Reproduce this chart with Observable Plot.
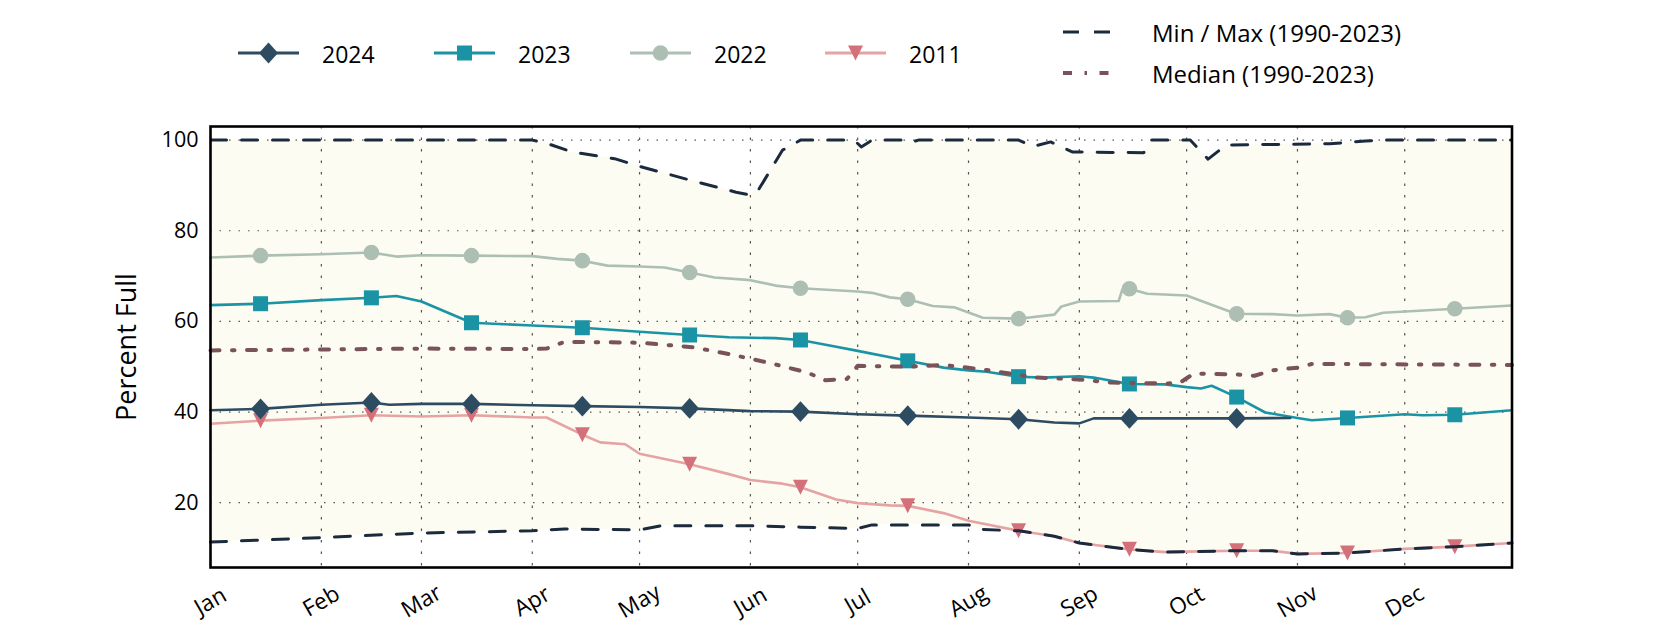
<!DOCTYPE html>
<html><head><meta charset="utf-8">
<script src="https://cdn.jsdelivr.net/npm/d3@7"></script>
<script src="https://cdn.jsdelivr.net/npm/@observablehq/plot@0.6"></script>
<style>
html,body{margin:0;padding:0;background:#fff;}
#chart{width:1680px;height:630px;font-family:"Open Sans",sans-serif;}
</style></head><body><div id="chart"></div>
<script>
const YEAR = 2023;
const monthTicks = ["01-01","02-01","03-01","04-01","05-01","06-01","07-01","08-01","09-01","10-01","11-01","12-01"];
const yTicks = [20, 40, 60, 80, 100];
const xDomain = ["01-01", "12-31"];
const yDomain = [5.7, 103];

const s2024 = [["01-01",40.4],["01-15",40.7],["02-01",41.6],["02-15",42.1],["02-20",41.6],["03-01",41.8],["03-15",41.8],["04-01",41.5],["04-15",41.3],["05-01",41.1],["05-15",40.8],["06-01",40.2],["06-15",40.1],["07-01",39.5],["07-15",39.2],["08-01",38.8],["08-15",38.4],["08-25",37.7],["09-01",37.5],["09-05",38.6],["09-15",38.6],["10-01",38.6],["10-15",38.6],["10-30",38.7]];
const s2023 = [["01-01",63.6],["01-15",63.9],["02-01",64.7],["02-15",65.2],["02-22",65.6],["03-01",64.4],["03-15",59.7],["04-01",59.1],["04-15",58.6],["05-01",57.7],["05-15",57.0],["05-26",56.5],["06-08",56.3],["06-15",55.9],["06-25",54.4],["07-01",53.5],["07-15",51.3],["07-25",49.8],["08-01",49.2],["08-06",48.9],["08-15",47.8],["08-22",47.6],["09-01",47.9],["09-05",47.6],["09-15",46.2],["09-25",46.1],["10-01",45.5],["10-05",45.2],["10-08",45.8],["10-15",43.3],["10-23",39.9],["11-01",38.7],["11-05",38.2],["11-15",38.7],["12-01",39.5],["12-06",39.3],["12-15",39.4],["12-31",40.4]];
const s2022 = [["01-01",74.1],["01-15",74.5],["02-01",74.8],["02-15",75.2],["02-22",74.3],["03-01",74.6],["03-15",74.5],["04-01",74.4],["04-08",73.8],["04-15",73.4],["04-22",72.3],["05-01",72.1],["05-08",71.9],["05-15",70.8],["05-22",69.7],["06-01",69.1],["06-08",67.9],["06-15",67.3],["07-01",66.6],["07-05",66.3],["07-10",65.3],["07-15",64.9],["07-22",63.4],["07-28",63.1],["08-05",60.8],["08-15",60.6],["08-25",61.5],["08-27",63.3],["09-01",64.4],["09-12",64.5],["09-13",67.0],["09-15",67.2],["09-20",66.1],["10-01",65.7],["10-14",61.9],["10-15",61.7],["10-25",61.6],["11-01",61.3],["11-10",61.6],["11-15",60.8],["11-20",60.9],["11-25",61.9],["12-15",62.8],["12-31",63.5]];
const s2011 = [["01-01",37.4],["01-15",38.1],["02-01",38.7],["02-15",39.3],["03-01",39.0],["03-15",39.3],["04-01",38.8],["04-05",38.8],["04-15",35.0],["04-20",33.3],["04-27",32.9],["05-01",30.8],["05-10",29.3],["05-15",28.5],["05-26",26.3],["06-01",25.0],["06-10",24.2],["06-15",23.4],["06-25",20.7],["07-01",19.9],["07-10",19.4],["07-15",19.3],["07-25",17.7],["08-01",16.0],["08-15",13.8],["08-25",12.6],["09-01",11.1],["09-15",9.7],["09-25",9.1],["10-01",9.2],["10-15",9.4],["10-25",9.4],["11-01",8.7],["11-15",8.9],["12-01",9.8],["12-15",10.3],["12-31",11.1]];
const sMin = [["01-01",11.3],["02-01",12.3],["03-01",13.3],["04-01",13.8],["04-10",14.2],["05-01",14.0],["05-07",14.9],["06-01",14.9],["06-15",14.6],["07-01",14.3],["07-05",15.1],["08-01",15.1],["08-04",14.1],["08-15",13.8],["08-25",12.6],["09-01",11.1],["09-15",9.7],["09-25",9.1],["10-01",9.2],["10-15",9.4],["10-25",9.4],["11-01",8.7],["11-15",8.9],["12-01",9.8],["12-15",10.3],["12-31",11.1]];
const sMax = [["01-01",100],["04-01",100],["04-05",99.3],["04-12",97.4],["04-24",95.9],["05-01",94.2],["05-15",91.2],["05-28",88.5],["06-01",87.9],["06-03",88.7],["06-10",97.8],["06-15",100],["06-30",100],["07-02",98.5],["07-05",100],["07-14",100],["07-16",99.5],["07-18",100],["08-15",100],["08-19",98.6],["08-24",99.6],["08-30",97.4],["09-19",97.2],["09-21",100],["10-02",100],["10-07",95.8],["10-12",98.9],["11-10",99.2],["11-20",99.8],["11-25",100],["12-31",100]];
const sMedian = [["01-01",53.6],["02-01",53.8],["03-01",54.0],["04-01",53.9],["04-05",54.0],["04-10",55.5],["05-01",55.3],["05-16",54.3],["05-26",52.8],["06-06",50.9],["06-17",48.7],["06-22",47.0],["06-28",47.3],["07-01",50.2],["07-15",50.0],["07-25",50.4],["08-05",49.4],["08-15",48.2],["08-20",47.6],["09-01",47.2],["09-10",46.5],["09-25",46.3],["09-29",46.4],["10-03",48.5],["10-15",48.3],["10-20",48.0],["10-25",49.2],["11-01",49.8],["11-05",50.6],["11-10",50.6],["12-31",50.4]];

const parse = s => new Date(YEAR, +s.slice(0, 2) - 1, +s.slice(3, 5));
const rows = arr => arr.map(([d, v]) => ({date: parse(d), value: v}));
const mid = arr => rows(arr).filter(d => d.date.getDate() === 15);

const diamondSym = {draw(ctx, size) { const r = Math.sqrt(size / Math.PI); const w = r, h = r * 1.1; ctx.moveTo(0, -h); ctx.lineTo(w, 0); ctx.lineTo(0, h); ctx.lineTo(-w, 0); ctx.closePath(); }};
const squareSym = {draw(ctx, size) { const r = Math.sqrt(size / Math.PI); ctx.rect(-r, -r, 2 * r, 2 * r); }};
const triDownSym = {draw(ctx, size) { const r = Math.sqrt(size / Math.PI); ctx.moveTo(-r, -r); ctx.lineTo(r, -r); ctx.lineTo(0, r); ctx.closePath(); }};
const circleSym = {draw(ctx, size) { const r = Math.sqrt(size / Math.PI); ctx.moveTo(r, 0); ctx.arc(0, 0, r, 0, 2 * Math.PI); }};

const C = {c2024: "#2d4b61", c2023: "#1a94a5", c2022: "#adbfb3", c2011: "#d3707a", c2011line: "#e5a3a3", minmax: "#1b2a3d", median: "#7a5259", cream: "#fcfcf3", grid: "#555"};
const FONT = '"Open Sans", sans-serif';

const series = [
  {label: "2011", data: s2011, line: C.c2011line, fill: C.c2011, sym: triDownSym, r: 7.5},
  {label: "2022", data: s2022, line: C.c2022, fill: C.c2022, sym: circleSym, r: 7.8},
  {label: "2023", data: s2023, line: C.c2023, fill: C.c2023, sym: squareSym, r: 7.5},
  {label: "2024", data: s2024, line: C.c2024, fill: C.c2024, sym: diamondSym, r: 9.5}
];

const marks = [
  Plot.areaY(rows(sMax), {x: "date", y: "value", fill: C.cream, clip: true}),
  Plot.areaY(rows(sMin), {x: "date", y: "value", fill: "white", clip: true}),
  Plot.gridX(monthTicks.map(parse), {stroke: C.grid, strokeOpacity: 1, strokeWidth: 1.2, strokeDasharray: "2.5,9"}),
  Plot.gridY(yTicks, {stroke: C.grid, strokeOpacity: 1, strokeWidth: 1.2, strokeDasharray: "1.5,8"})
];
for (const s of series) {
  marks.push(Plot.line(rows(s.data), {x: "date", y: "value", stroke: s.line, strokeWidth: 2.6}));
  marks.push(Plot.dot(mid(s.data), {x: "date", y: "value", symbol: s.sym, r: s.r, fill: s.fill, stroke: "none"}));
}
marks.push(
  Plot.line(rows(sMedian), {x: "date", y: "value", stroke: C.median, strokeWidth: 4, strokeDasharray: "9,12.5,2.5,12.5"}),
  Plot.line(rows(sMin), {x: "date", y: "value", stroke: C.minmax, strokeWidth: 3, strokeDasharray: "16,15"}),
  Plot.line(rows(sMax), {x: "date", y: "value", stroke: C.minmax, strokeWidth: 3, strokeDasharray: "16,15", clip: true}),
  Plot.axisX(monthTicks.map(parse), {tickFormat: d3.timeFormat("%b"), tickSize: 0, tickPadding: 34, tickRotate: -30, textAnchor: "middle", lineAnchor: "middle", fontSize: 22.5, label: null}),
  Plot.axisY(yTicks, {tickSize: 0, tickPadding: 12, fontSize: 21.5, label: null}),
  Plot.frame({stroke: "black", strokeWidth: 2.6}),
  Plot.text(["Percent Full"], {frameAnchor: "left", dx: -83, rotate: -90, fontSize: 27, textAnchor: "middle", lineAnchor: "middle", fill: "black"})
);

const svg = Plot.plot({
  width: 1680, height: 630,
  marginLeft: 210, marginRight: 168.5, marginTop: 126, marginBottom: 63,
  x: {type: "time", domain: xDomain.map(parse)},
  y: {domain: yDomain},
  style: {fontFamily: FONT, background: "white", color: "black", overflow: "visible"},
  marks
});
document.getElementById("chart").appendChild(svg);

// legend
const lg = d3.select(svg).append("g").attr("font-family", FONT).attr("fill", "black").attr("text-anchor", "start");
const legendItems = [
  {label: "2024", color: C.c2024, line: C.c2024, sym: diamondSym, r: 9.5, x: 238},
  {label: "2023", color: C.c2023, line: C.c2023, sym: squareSym, r: 7.5, x: 434},
  {label: "2022", color: C.c2022, line: C.c2022, sym: circleSym, r: 7.8, x: 630},
  {label: "2011", color: C.c2011, line: C.c2011line, sym: triDownSym, r: 7.5, x: 825}
];
for (const it of legendItems) {
  const y = 53;
  lg.append("line").attr("x1", it.x).attr("x2", it.x + 61).attr("y1", y).attr("y2", y).attr("stroke", it.line).attr("stroke-width", 2.8);
  lg.append("path").attr("transform", `translate(${it.x + 30.5},${y})`).attr("d", d3.symbol(it.sym, Math.PI * it.r * it.r)()).attr("fill", it.color);
  lg.append("text").attr("x", it.x + 84).attr("y", y + 1).attr("dominant-baseline", "central").attr("font-size", 23).text(it.label);
}
const refItems = [
  {label: "Min / Max (1990-2023)", color: C.minmax, dash: "16,15", w: 3, y: 32},
  {label: "Median (1990-2023)", color: C.median, dash: "9,12.5,2.5,12.5", w: 4, y: 73}
];
for (const it of refItems) {
  lg.append("line").attr("x1", 1063).attr("x2", 1112).attr("y1", it.y).attr("y2", it.y).attr("stroke", it.color).attr("stroke-width", it.w).attr("stroke-dasharray", it.dash);
  lg.append("text").attr("x", 1152).attr("y", it.y).attr("dominant-baseline", "central").attr("font-size", 24).text(it.label);
}
</script></body></html>
